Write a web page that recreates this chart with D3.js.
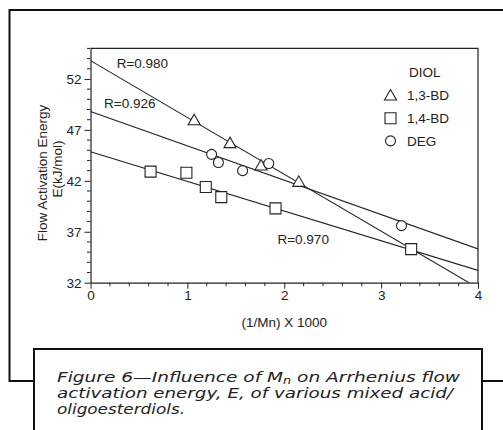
<!DOCTYPE html>
<html>
<head>
<meta charset="utf-8">
<script src="https://cdn.jsdelivr.net/npm/d3@7"></script>
<style>
  html, body { margin: 0; padding: 0; background: #fff; }
  svg { display: block; }
</style>
</head>
<body>
<svg id="chart" width="503" height="430"></svg>
<script>
// ---- data ----
const seriesNames = ["1,3-BD", "1,4-BD", "DEG"];
const symbols = ["triangle", "square", "circle"];
const bd13X = [1.07, 1.44, 1.76, 2.15];
const bd13Y = [47.95, 45.7, 43.5, 41.9];
const bd14X = [0.62, 0.99, 1.19, 1.35, 1.91, 3.31];
const bd14Y = [42.9, 42.8, 41.4, 40.4, 39.3, 35.3];
const degX = [1.25, 1.32, 1.57, 1.84, 3.21];
const degY = [44.6, 43.8, 43.0, 43.7, 37.6];
// regression lines: intercept at x=0 and slope
const fitIntercept = [53.8, 44.85, 48.8];
const fitSlope = [-5.58, -2.91, -3.37];
const fitLabels = ["R=0.980", "R=0.970", "R=0.926"];
const fitLabelX = [0.27, 1.93, 0.14];
const fitLabelY = [53.5, 36.3, 49.6];
const xTicks = [0, 1, 2, 3, 4];
const yTicks = [32, 37, 42, 47, 52];
const xDomain = [0, 4];
const yDomain = [32, 55];
const legendTitle = "DIOL";
const xTitle = "(1/Mn) X 1000";
const yTitle1 = "Flow Activation Energy";
const yTitle2 = "E(kJ/mol)";

const svg = d3.select("#chart");
const font = "'Liberation Sans', Arial, Helvetica, sans-serif";
const fs = 13.5;

// outer frame (right edge off-screen)
const frame = svg.append("g").attr("fill", "none").attr("stroke", "#111").attr("stroke-width", 2);
frame.append("path").attr("d", "M510,10 H9.5 V381 H34");
frame.append("path").attr("d", "M482,381 H510");

const x = d3.scaleLinear().domain(xDomain).range([90.5, 478]);
const y = d3.scaleLinear().domain(yDomain).range([282.7, 48.4]);

const g = svg.append("g");

// plot box top and right
g.append("path").attr("d", `M${x(0)},${y(55)} H${x(4)} V${y(32)}`)
  .attr("fill", "none").attr("stroke", "#222").attr("stroke-width", 1.2);

// x axis
const xAxis = d3.axisBottom(x).tickValues(xTicks).tickFormat(d3.format("d")).tickSize(6).tickSizeOuter(0);
const xa = g.append("g").attr("transform", `translate(0,${y(32)})`).call(xAxis);
const xMinor = d3.range(0, 4.001, 0.2).filter(v => Math.abs(v - Math.round(v)) > 1e-6);
g.append("g").selectAll("line").data(xMinor).join("line")
  .attr("x1", d => x(d)).attr("x2", d => x(d))
  .attr("y1", y(32)).attr("y2", y(32) + 3.5)
  .attr("stroke", "#222").attr("stroke-width", 1);

// y axis
const yAxis = d3.axisLeft(y).tickValues(yTicks).tickFormat(d3.format("d")).tickSize(6).tickSizeOuter(0);
const ya = g.append("g").attr("transform", `translate(${x(0)},0)`).call(yAxis);
const yMinor = d3.range(33, 55.001, 1).filter(v => !yTicks.includes(v));
g.append("g").selectAll("line").data(yMinor).join("line")
  .attr("x1", x(0)).attr("x2", x(0) - 3.5)
  .attr("y1", d => y(d)).attr("y2", d => y(d))
  .attr("stroke", "#222").attr("stroke-width", 1);

[xa, ya].forEach(a => {
  a.select(".domain").attr("stroke", "#222").attr("stroke-width", 1.2);
  a.selectAll(".tick line").attr("stroke", "#222").attr("stroke-width", 1);
  a.selectAll("text").attr("font-family", font).attr("font-size", fs).attr("fill", "#222");
});
xa.selectAll("text").attr("dy", "0.71em").attr("y", 8);
ya.selectAll("text").attr("x", -9);

// fit lines, clipped to plot area
svg.append("clipPath").attr("id", "plotclip").append("rect")
  .attr("x", x(0)).attr("y", y(55)).attr("width", x(4) - x(0)).attr("height", y(32) - y(55));
const lg = g.append("g").attr("clip-path", "url(#plotclip)");
fitIntercept.forEach((b, i) => {
  const m = fitSlope[i];
  lg.append("line")
    .attr("x1", x(0)).attr("y1", y(b))
    .attr("x2", x(4)).attr("y2", y(b + 4 * m))
    .attr("stroke", "#222").attr("stroke-width", 1.1);
});

// fit labels
fitLabels.forEach((t, i) => {
  g.append("text").attr("x", x(fitLabelX[i])).attr("y", y(fitLabelY[i]))
    .attr("dy", "0.35em").attr("font-family", font).attr("font-size", fs).attr("fill", "#222").text(t);
});

// markers
function marker(sel, type, cx, cy) {
  const s = sel.append("path").attr("fill", "#fff").attr("stroke", "#222").attr("stroke-width", 1.1)
    .attr("transform", `translate(${cx},${cy})`);
  if (type === "triangle") s.attr("d", "M0,-6 L6,4.5 L-6,4.5 Z");
  else if (type === "square") s.attr("d", "M-5.5,-5.5 H5.5 V5.5 H-5.5 Z");
  else s.attr("d", d3.arc()({innerRadius: 0, outerRadius: 5, startAngle: 0, endAngle: 2 * Math.PI}));
  return s;
}
const ptsX = [bd13X, bd14X, degX];
const ptsY = [bd13Y, bd14Y, degY];
const mg = g.append("g");
ptsX.forEach((xs, i) => {
  xs.forEach((v, j) => marker(mg, symbols[i], x(v), y(ptsY[i][j])));
});

// legend
const leg = g.append("g");
leg.append("text").attr("x", 409).attr("y", 72).attr("dy", "0.35em")
  .attr("font-family", font).attr("font-size", fs).attr("fill", "#222").text(legendTitle);
seriesNames.forEach((n, i) => {
  const ly = 95.5 + i * 22.7;
  marker(leg, symbols[i], 390.5, ly);
  leg.append("text").attr("x", 407).attr("y", ly).attr("dy", "0.35em")
    .attr("font-family", font).attr("font-size", fs).attr("fill", "#222").text(n);
});

// axis titles
g.append("text").attr("x", x(2)).attr("y", 322).attr("dy", "0.35em").attr("text-anchor", "middle")
  .attr("font-family", font).attr("font-size", fs).attr("fill", "#222").text(xTitle);
g.append("text").attr("transform", "translate(42,173) rotate(-90)").attr("text-anchor", "middle")
  .attr("dy", "0.35em").attr("font-family", font).attr("font-size", 13.5).attr("fill", "#222").text(yTitle1);
g.append("text").attr("transform", "translate(57,169) rotate(-90)").attr("text-anchor", "middle")
  .attr("dy", "0.35em").attr("font-family", font).attr("font-size", 13.5).attr("fill", "#222").text(yTitle2);

// caption box
svg.append("rect").attr("x", 34).attr("y", 349).attr("width", 448).attr("height", 100)
  .attr("fill", "#fff").attr("stroke", "#111").attr("stroke-width", 2);
const capFont = "'DejaVu Sans', Verdana, sans-serif";
const cap = svg.append("g").attr("font-family", capFont).attr("font-style", "italic")
  .attr("font-size", 14.5).attr("fill", "#222");
const l1 = cap.append("text").attr("x", 57).attr("y", 382)
  .attr("textLength", 403).attr("lengthAdjust", "spacingAndGlyphs");
l1.append("tspan").text("Figure 6\u2014Influence of M");
l1.append("tspan").attr("font-size", 10).attr("dy", 2).text("n");
l1.append("tspan").attr("dy", -2).text(" on Arrhenius flow");
cap.append("text").attr("x", 57).attr("y", 398)
  .attr("textLength", 396).attr("lengthAdjust", "spacingAndGlyphs")
  .text("activation energy, E, of various mixed acid/");
cap.append("text").attr("x", 57).attr("y", 414)
  .attr("textLength", 128).attr("lengthAdjust", "spacingAndGlyphs")
  .text("oligoesterdiols.");
</script>
</body>
</html>
